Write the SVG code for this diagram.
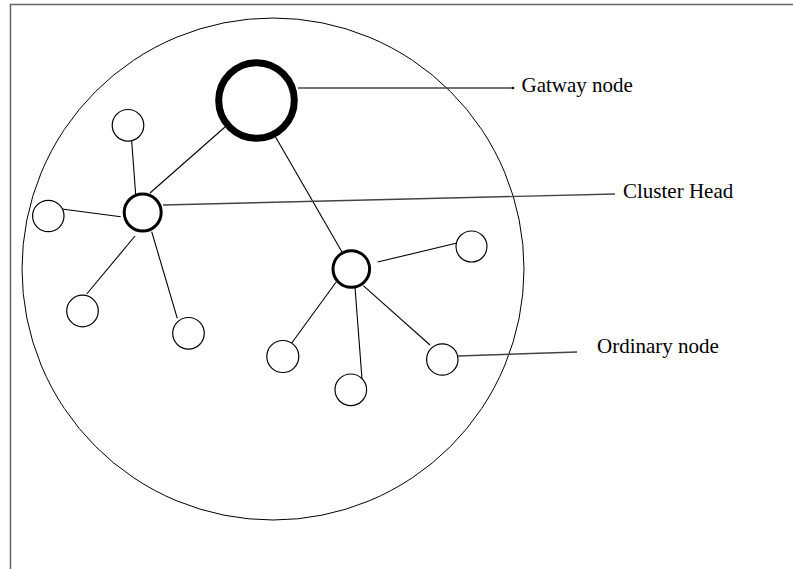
<svg xmlns="http://www.w3.org/2000/svg" width="793" height="569" viewBox="0 0 793 569">
<style>
.node{fill:#fff;stroke:#000;stroke-width:1.2}
.ch{fill:#fff;stroke:#000;stroke-width:3}
.gw{fill:#fff;stroke:#000;stroke-width:7}
.edge{stroke:#000;stroke-width:1.1;fill:none}
.lead{stroke:#444;stroke-width:1.4;fill:none}
.lbl{font-family:"Liberation Serif","Times New Roman",serif;font-size:21px;fill:#000}
</style>
<rect width="793" height="569" fill="#fff"/>
<path d="M10.5,569 V4.5 H793" fill="none" stroke="#666" stroke-width="1.5"/>
<g id="region"><circle cx="273" cy="269" r="251" fill="none" stroke="#000" stroke-width="1"/></g>
<g id="connectors">
<line class="edge" x1="225" y1="127" x2="150" y2="193"/>
<line class="edge" x1="275" y1="136" x2="342" y2="252"/>
<line class="edge" x1="131.7" y1="141.3" x2="135.7" y2="195"/>
<line class="edge" x1="60" y1="208.7" x2="120.7" y2="216.7"/>
<line class="edge" x1="135" y1="236" x2="86.7" y2="294"/>
<line class="edge" x1="151.7" y1="231.7" x2="177.3" y2="318.3"/>
<line class="edge" x1="377.7" y1="262" x2="456" y2="243.3"/>
<line class="edge" x1="363.3" y1="285.7" x2="430" y2="345"/>
<line class="edge" x1="354.7" y1="283.3" x2="362" y2="379"/>
<line class="edge" x1="340" y1="276.7" x2="291" y2="344"/>
<line class="lead" x1="298" y1="88" x2="513" y2="88"/>
<circle cx="513" cy="88" r="1.3" fill="#000"/>
<line class="lead" x1="163" y1="205" x2="615" y2="194"/>
<line class="lead" x1="458" y1="356" x2="577" y2="352"/>
</g>
<g id="gateway"><circle class="gw" cx="256.5" cy="100.5" r="37.8"/></g>
<g id="ch1"><circle class="ch" cx="142.7" cy="212.5" r="18.5"/></g>
<g id="ch2"><circle class="ch" cx="351.3" cy="269" r="18.3"/></g>
<g id="n1"><circle class="node" cx="128" cy="125.3" r="15.8"/></g>
<g id="n2"><circle class="node" cx="48.3" cy="216" r="15.7"/></g>
<g id="n3"><circle class="node" cx="82.5" cy="311" r="15.8"/></g>
<g id="n4"><circle class="node" cx="188.5" cy="333.3" r="15.8"/></g>
<g id="n5"><circle class="node" cx="471.5" cy="246.5" r="15.5"/></g>
<g id="n6"><circle class="node" cx="442.3" cy="359.5" r="15.7"/></g>
<g id="n7"><circle class="node" cx="350.8" cy="389.8" r="15.8"/></g>
<g id="n8"><circle class="node" cx="282.8" cy="356.5" r="16"/></g>
<g id="labels">
<text class="lbl" x="521.5" y="92">Gatway node</text>
<text class="lbl" x="623" y="198">Cluster Head</text>
<text class="lbl" x="597" y="353">Ordinary node</text>
</g>
</svg>
